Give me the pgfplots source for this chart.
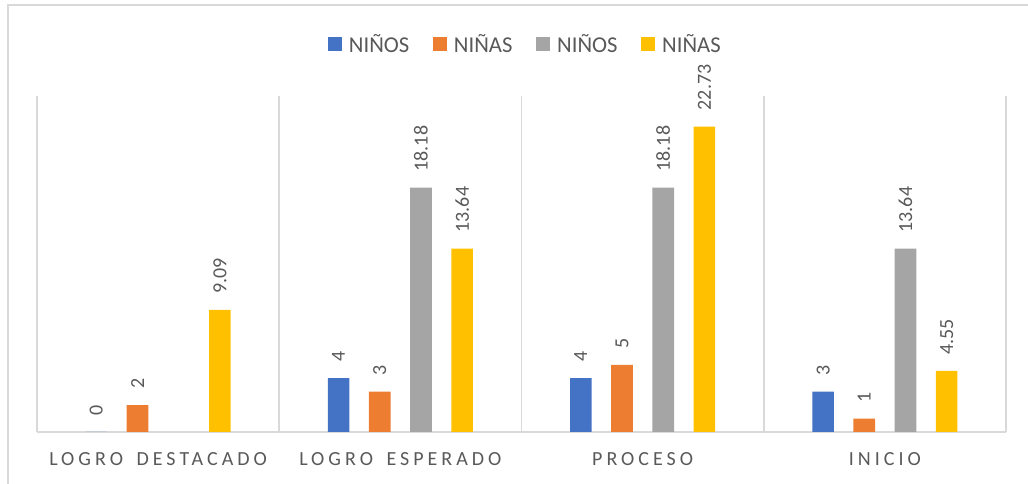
\documentclass[border=0pt]{standalone}
\usepackage{pgfplots}
\pgfplotsset{compat=1.18}
\usepackage{fontspec}
\setmainfont{Carlito}
\newfontfamily\catfont{Carlito}[LetterSpace=20,WordSpace=1.6]
\definecolor{cblue}{HTML}{4472C4}
\definecolor{corange}{HTML}{ED7D31}
\definecolor{cgray}{HTML}{A5A5A5}
\definecolor{cgold}{HTML}{FFC000}
\definecolor{ctext}{HTML}{595959}
\definecolor{cline}{HTML}{D9D9D9}
\begin{document}
\begin{tikzpicture}
\useasboundingbox (-27.75pt,-39pt) rectangle (743.25pt,324pt);
\draw[cline, line width=1.2pt] (-21.75pt,-39pt) -- (-21.75pt,320.25pt) -- (743.25pt,320.25pt);
\begin{axis}[
  at={(0pt,0pt)}, anchor=south west,
  scale only axis,
  width=726.75pt, height=252pt,
  xmin=-0.5, xmax=3.5, ymin=0, ymax=25,
  ybar=14.7pt, bar width=16.2pt,
  axis y line=none,
  axis x line*=bottom,
  x axis line style={cline, line width=1.2pt, -},
  xtick={0,1,2,3},
  xticklabels={LOGRO DESTACADO, LOGRO ESPERADO, PROCESO, INICIO},
  minor xtick={-0.5,0.5,1.5,2.5,3.5},
  minor x grid style={cline, line width=1.2pt},
  xminorgrids=true,
  major tick length=0pt, minor tick length=0pt,
  xticklabel style={font=\catfont\fontsize{15pt}{18pt}\selectfont, text=ctext, inner sep=0pt, anchor=north, yshift=-15.5pt},
  /pgf/number format/assume math mode=true,
  nodes near coords={\pgfmathprintnumber[fixed, precision=2]{\pgfplotspointmeta}},
  every node near coord/.append style={rotate=90, anchor=west, inner xsep=12pt, inner ysep=0pt, font=\fontsize{15pt}{18pt}\selectfont, text=ctext},
  legend columns=4,
  legend style={draw=none, at={(0.5,1)}, anchor=center, yshift=39pt, xshift=3pt,
    font=\fontsize{17pt}{20pt}\selectfont, text=ctext,
    /tikz/every even column/.append style={column sep=15.5pt}},
  legend image code/.code={\fill[#1] (0pt,-5.25pt) rectangle (10.5pt,5.25pt); \path (14pt,0pt);},
]
\addplot[fill=cblue, draw=none] coordinates {(0,0) (1,4) (2,4) (3,3)};
\addplot[fill=corange, draw=none] coordinates {(0,2) (1,3) (2,5) (3,1)};
\addplot[fill=cgray, draw=none] coordinates {(1,18.18) (2,18.18) (3,13.64)};
\addplot[fill=cgold, draw=none] coordinates {(0,9.09) (1,13.64) (2,22.73) (3,4.55)};
\legend{NIÑOS, NIÑAS, NIÑOS, NIÑAS}
\end{axis}
\end{tikzpicture}
\end{document}
